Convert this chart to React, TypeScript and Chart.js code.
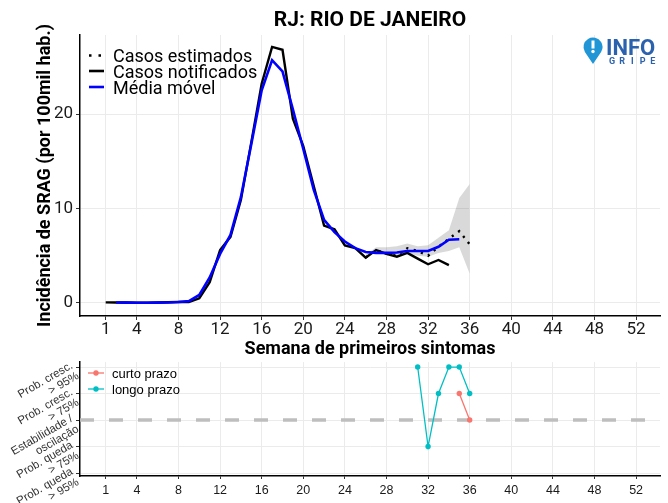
import React, { useEffect, useRef } from 'react';
import { Chart, registerables } from 'chart.js';

Chart.register(...registerables);

// ---------- data ----------
const titleText = 'RJ: RIO DE JANEIRO';
const yTitleText = 'Incidência de SRAG (por 100mil hab.)';
const xTitleText = 'Semana de primeiros sintomas';

const xTicks = [1, 4, 8, 12, 16, 20, 24, 28, 32, 36, 40, 44, 48, 52];
const yTicksTop = [0, 10, 20];

const notifiedWeeks = [1, 2, 3, 4, 5, 6, 7, 8, 9, 10, 11, 12, 13, 14, 15, 16, 17, 18, 19, 20, 21, 22, 23, 24, 25, 26, 27, 28, 29, 30, 31, 32, 33, 34];
const notifiedValues = [0.07, 0.05, 0.05, 0.03, 0.03, 0.05, 0.08, 0.1, 0.1, 0.5, 2.2, 5.6, 7.0, 10.9, 17.0, 23.2, 27.1, 26.8, 19.5, 16.6, 12.4, 8.2, 7.8, 6.1, 5.8, 4.8, 5.6, 5.2, 4.9, 5.3, 4.7, 4.1, 4.55, 4.0];

const movingWeeks = [2, 3, 4, 5, 6, 7, 8, 9, 10, 11, 12, 13, 14, 15, 16, 17, 18, 19, 20, 21, 22, 23, 24, 25, 26, 27, 28, 29, 30, 31, 32, 33, 34, 35];
const movingValues = [0.05, 0.04, 0.03, 0.03, 0.04, 0.06, 0.1, 0.2, 0.85, 2.7, 5.2, 7.2, 11.2, 16.8, 22.5, 25.7, 24.5, 20.5, 16.3, 12.0, 8.8, 7.5, 6.5, 5.8, 5.4, 5.3, 5.3, 5.35, 5.5, 5.5, 5.5, 5.95, 6.7, 6.75];

const estimatedWeeks = [26, 27, 28, 29, 30, 31, 32, 33, 34, 35, 36];
const estimatedValues = [4.8, 5.6, 5.2, 5.0, 5.8, 5.5, 5.0, 5.95, 6.8, 7.6, 6.2];

const bandWeeks = [26, 27, 28, 29, 30, 31, 32, 33, 34, 35, 36];
const bandLower = [4.7, 5.4, 5.1, 5.0, 5.3, 5.0, 4.9, 5.3, 5.5, 5.9, 3.1];
const bandUpper = [5.1, 5.9, 5.9, 6.0, 6.3, 6.0, 6.1, 6.9, 7.7, 11.1, 12.6];

const trendLevels = [2, 1, 0, -1, -2];
const trendLabels = [
  ['Prob. cresc.', '> 95%'],
  ['Prob. cresc.', '> 75%'],
  ['Estabilidade /', 'oscilação'],
  ['Prob. queda', '> 75%'],
  ['Prob. queda', '> 95%'],
];
const stableLevel = 0;

const shortWeeks = [35, 36];
const shortValues = [1, 0];
const longWeeks = [31, 32, 33, 34, 35, 36];
const longValues = [2, -1, 1, 2, 2, 1];

const legendTop = ['Casos estimados', 'Casos notificados', 'Média móvel'];
const legendBottom = ['curto prazo', 'longo prazo'];

// ---------- style ----------
const X_MIN = -1.47;
const X_MAX = 54.3;
const GRID = '#ebebeb';
const SHORT_COLOR = '#F8766D';
const LONG_COLOR = '#00BFC4';

const toPts = (xs: number[], ys: number[]) => xs.map((x, i) => ({ x, y: ys[i] }));

const topDecor = {
  id: 'topDecor',
  afterDraw(chart: any) {
    const ctx = chart.ctx as CanvasRenderingContext2D;
    const a = chart.chartArea;
    const cx = (a.left + a.right) / 2;
    ctx.save();
    ctx.fillStyle = '#000';
    ctx.textAlign = 'center';
    ctx.textBaseline = 'alphabetic';
    ctx.font = 'bold 21px Roboto';
    ctx.fillText(titleText, cx, 26);
    ctx.font = 'bold 18px Roboto';
    ctx.fillText(xTitleText, cx, 354);

    ctx.save();
    ctx.translate(50, (a.top + a.bottom) / 2);
    ctx.rotate(-Math.PI / 2);
    ctx.font = 'bold 18px Roboto';
    ctx.fillText(yTitleText, 0, 0);
    ctx.restore();

    // legend
    const rows = [55.5, 71, 87];
    ctx.textAlign = 'left';
    ctx.font = '18px Roboto';
    legendTop.forEach((label, i) => {
      const y = rows[i];
      ctx.save();
      ctx.beginPath();
      ctx.lineWidth = 2.6;
      ctx.strokeStyle = i === 2 ? '#0000ff' : '#000';
      if (i === 0) ctx.setLineDash([2.5, 7]);
      ctx.moveTo(89, y);
      ctx.lineTo(104, y);
      ctx.stroke();
      ctx.restore();
      ctx.fillStyle = '#000';
      ctx.fillText(label, 113, y + 6.5);
    });

    // logo
    const px = 593, py = 47, r = 9.5;
    ctx.fillStyle = '#2196d6';
    ctx.beginPath();
    ctx.arc(px, py, r, Math.PI - 0.55, 0.55);
    ctx.lineTo(px, py + 17);
    ctx.closePath();
    ctx.fill();
    ctx.fillStyle = '#fff';
    ctx.fillRect(px - 1.5, py - 6.5, 3, 8);
    ctx.beginPath();
    ctx.arc(px, py + 4.5, 1.7, 0, Math.PI * 2);
    ctx.fill();
    ctx.fillStyle = '#2b62ad';
    ctx.font = 'bold 22px Roboto';
    ctx.fillText('INFO', 606, 55);
    ctx.font = 'bold 9px Roboto';
    ctx.textAlign = 'center';
    const gripe = 'GRIPE';
    for (let i = 0; i < gripe.length; i++) {
      ctx.fillText(gripe[i], 612 + i * 10.2, 64);
    }
    ctx.restore();
  },
};

const bottomDecor = {
  id: 'bottomDecor',
  afterDraw(chart: any) {
    const ctx = chart.ctx as CanvasRenderingContext2D;
    const ys = chart.scales.y;
    ctx.save();
    // rotated y labels
    ctx.fillStyle = '#333';
    ctx.font = '11.5px "Liberation Sans"';
    ctx.textAlign = 'right';
    ctx.textBaseline = 'middle';
    const lh = 12;
    trendLevels.forEach((lv, i) => {
      const ty = ys.getPixelForValue(lv);
      ctx.save();
      ctx.translate(75, ty + 3);
      ctx.rotate(-Math.PI / 6);
      ctx.fillText(trendLabels[i][0], 0, -lh / 2);
      ctx.fillText(trendLabels[i][1], 0, lh / 2);
      ctx.restore();
    });
    // legend
    const off = 355;
    const rows = [373 - off, 389 - off];
    const cols = [SHORT_COLOR, LONG_COLOR];
    ctx.textAlign = 'left';
    ctx.font = '13px "Liberation Sans"';
    legendBottom.forEach((label, i) => {
      const y = rows[i];
      ctx.strokeStyle = cols[i];
      ctx.lineWidth = 1.3;
      ctx.beginPath();
      ctx.moveTo(88, y);
      ctx.lineTo(104, y);
      ctx.stroke();
      ctx.fillStyle = cols[i];
      ctx.beginPath();
      ctx.arc(96, y, 2.7, 0, Math.PI * 2);
      ctx.fill();
      ctx.fillStyle = '#000';
      ctx.fillText(label, 112, y + 1);
    });
    ctx.restore();
  },
};

export default function App() {
  const topRef = useRef<HTMLCanvasElement>(null);
  const botRef = useRef<HTMLCanvasElement>(null);

  useEffect(() => {
    const top = new Chart(topRef.current as HTMLCanvasElement, {
      type: 'line',
      data: {
        datasets: [
          {
            label: 'Média móvel',
            data: toPts(movingWeeks, movingValues),
            borderColor: '#0000ff',
            borderWidth: 2.6,
            pointRadius: 0,
            fill: false,
          },
          {
            label: 'Casos notificados',
            data: toPts(notifiedWeeks, notifiedValues),
            borderColor: '#000',
            borderWidth: 2.4,
            pointRadius: 0,
            fill: false,
          },
          {
            label: 'Casos estimados',
            data: toPts(estimatedWeeks, estimatedValues),
            borderColor: '#000',
            borderWidth: 2.4,
            borderDash: [2.2, 5.5],
            pointRadius: 0,
            fill: false,
          },
          {
            label: 'lower',
            data: toPts(bandWeeks, bandLower),
            borderColor: 'rgba(0,0,0,0)',
            borderWidth: 1,
            pointRadius: 0,
            fill: false,
          },
          {
            label: 'upper',
            data: toPts(bandWeeks, bandUpper),
            borderColor: 'rgba(0,0,0,0)',
            borderWidth: 1,
            pointRadius: 0,
            fill: '-1',
            backgroundColor: 'rgba(0,0,0,0.15)',
          },
        ],
      },
      options: {
        animation: false,
        responsive: false,
        maintainAspectRatio: false,
        layout: { padding: { left: 0, right: 8, top: 35, bottom: 0 } },
        plugins: { legend: { display: false }, tooltip: { enabled: false } },
        scales: {
          x: {
            type: 'linear',
            min: X_MIN,
            max: X_MAX,
            afterBuildTicks: (s: any) => {
              s.ticks = xTicks.map((v) => ({ value: v }));
            },
            afterFit: (s: any) => {
              s.height = 44;
            },
            grid: { color: GRID, lineWidth: 1, tickColor: '#333', tickLength: 4 },
            border: { color: '#000', width: 1.5 },
            ticks: {
              font: { family: 'Roboto', size: 17 },
              color: '#1a1a1a',
              padding: 0,
              maxRotation: 0,
              autoSkip: false,
            },
          },
          y: {
            type: 'linear',
            min: -1.376,
            max: 28.36,
            afterBuildTicks: (s: any) => {
              s.ticks = yTicksTop.map((v) => ({ value: v }));
            },
            afterFit: (s: any) => {
              s.width = 80;
            },
            grid: { color: GRID, lineWidth: 1, tickColor: '#333', tickLength: 4 },
            border: { color: '#000', width: 1.5 },
            ticks: {
              font: { family: 'Roboto', size: 17 },
              color: '#1a1a1a',
              padding: 3,
            },
          },
        },
      },
      plugins: [topDecor],
    } as any);

    const bot = new Chart(botRef.current as HTMLCanvasElement, {
      type: 'line',
      data: {
        datasets: [
          {
            label: 'curto prazo',
            data: toPts(shortWeeks, shortValues),
            borderColor: SHORT_COLOR,
            backgroundColor: SHORT_COLOR,
            borderWidth: 1.3,
            pointRadius: 2.7,
            pointBorderWidth: 0,
            fill: false,
          },
          {
            label: 'longo prazo',
            data: toPts(longWeeks, longValues),
            borderColor: LONG_COLOR,
            backgroundColor: LONG_COLOR,
            borderWidth: 1.3,
            pointRadius: 2.7,
            pointBorderWidth: 0,
            fill: false,
          },
          {
            label: 'estabilidade',
            data: [
              { x: X_MIN, y: stableLevel },
              { x: X_MAX, y: stableLevel },
            ],
            borderColor: '#bebebe',
            borderWidth: 3.5,
            borderDash: [14, 15],
            borderCapStyle: 'butt',
            pointRadius: 0,
            fill: false,
          },
        ],
      },
      options: {
        animation: false,
        responsive: false,
        maintainAspectRatio: false,
        layout: { padding: { left: 0, right: 8, top: 7, bottom: 0 } },
        plugins: { legend: { display: false }, tooltip: { enabled: false } },
        scales: {
          x: {
            type: 'linear',
            min: X_MIN,
            max: X_MAX,
            afterBuildTicks: (s: any) => {
              s.ticks = xTicks.map((v) => ({ value: v }));
            },
            afterFit: (s: any) => {
              s.height = 27;
            },
            grid: { color: GRID, lineWidth: 1, tickColor: '#333', tickLength: 3 },
            border: { color: '#000', width: 1.5 },
            ticks: {
              font: { family: 'Liberation Sans', size: 12.5 },
              color: '#1a1a1a',
              padding: 4,
              maxRotation: 0,
              autoSkip: false,
            },
          },
          y: {
            type: 'linear',
            min: -2.11,
            max: 2.19,
            afterBuildTicks: (s: any) => {
              s.ticks = trendLevels.map((v) => ({ value: v }));
            },
            afterFit: (s: any) => {
              s.width = 80;
            },
            grid: { color: GRID, lineWidth: 1, tickColor: '#333', tickLength: 4 },
            border: { color: '#000', width: 1.5 },
            ticks: { display: false },
          },
        },
      },
      plugins: [bottomDecor],
    } as any);

    return () => {
      top.destroy();
      bot.destroy();
    };
  }, []);

  return (
    <div style={{ position: 'fixed', left: 0, top: 0, width: 668, height: 503, background: '#fff' }}>
      <canvas
        ref={topRef}
        width={668}
        height={360}
        style={{ position: 'absolute', left: 0, top: 0, width: 668, height: 360 }}
      />
      <canvas
        ref={botRef}
        width={668}
        height={148}
        style={{ position: 'absolute', left: 0, top: 355, width: 668, height: 148 }}
      />
    </div>
  );
}
